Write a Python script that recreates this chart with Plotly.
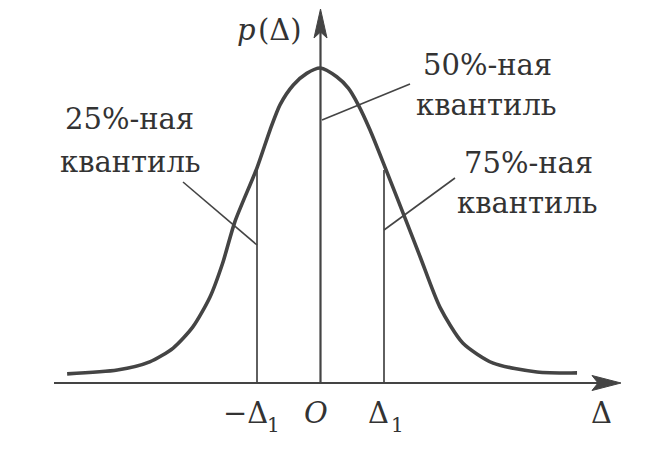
import plotly.graph_objects as go

# ---- data (Δ in units of Δ1, p normalised to the peak) ----
curve_delta = [-3.99, -3.20, -2.69, -2.32, -2.01, -1.74, -1.54, -1.35, -1.00, -0.795, -0.638,
               -0.428, -0.217, 0.0, 0.255, 0.438, 0.595, 0.78, 1.02, 1.33, 1.57, 1.88, 2.24,
               2.72, 3.41, 4.04]
curve_p = [0.029, 0.041, 0.067, 0.111, 0.178, 0.273, 0.381, 0.511, 0.683, 0.803, 0.883,
           0.946, 0.983, 1.0, 0.972, 0.936, 0.883, 0.803, 0.683, 0.524, 0.400, 0.241, 0.127,
           0.063, 0.035, 0.032]
quantile_delta = [-1.0, 1.0]
quantile_p = [0.676, 0.676]
quantile_names = ["25%-ная", "50%-ная", "75%-ная"]
quantile_word = "квантиль"
tick_main = ["−Δ", "O", "Δ"]
tick_sub = ["1", "", "1"]
tick_delta = [-1.0, 0.0, 1.0]
x_title = "Δ"
y_title_var = "p"
y_title_arg = "(Δ)"

# ---- pixel <-> data helpers for layout placement ----
W, H = 651, 457
X0, SX, Y0, SY = 320.5, 63.5, 383.0, 315.0
def dx(px):
    return (px - X0) / SX
def dy(px):
    return (Y0 - px) / SY

INK = "#444444"
TXT = "#333333"

fig = go.Figure()

# x axis line and y axis line
fig.add_trace(go.Scatter(x=[dx(54), dx(600)], y=[0, 0], mode="lines",
                         line=dict(color=INK, width=2.2), hoverinfo="skip"))
fig.add_trace(go.Scatter(x=[0, 0], y=[0, dy(30)], mode="lines",
                         line=dict(color=INK, width=2.2), hoverinfo="skip"))

# quantile verticals
for q, h in zip(quantile_delta, quantile_p):
    fig.add_trace(go.Scatter(x=[q, q], y=[0, h], mode="lines",
                             line=dict(color=INK, width=1.7), hoverinfo="skip"))

# density curve
fig.add_trace(go.Scatter(x=curve_delta, y=curve_p, mode="lines",
                         line=dict(color=INK, width=3.6, shape="spline", smoothing=0.7),
                         hoverinfo="skip"))

shapes = []
# arrowheads
def path(pts):
    return "M " + " L ".join(f"{a},{b}" for a, b in pts) + " Z"
shapes.append(dict(type="path", xref="x", yref="y",
                   path=path([(dx(621), dy(383)), (dx(592), dy(375.5)), (dx(598), dy(383)),
                              (dx(592), dy(390.5))]),
                   fillcolor=INK, line=dict(color=INK, width=1)))
shapes.append(dict(type="path", xref="x", yref="y",
                   path=path([(dx(320.5), dy(9)), (dx(314), dy(38)), (dx(320.5), dy(32)),
                              (dx(327), dy(38))]),
                   fillcolor=INK, line=dict(color=INK, width=1)))
# leader lines
for (x1, y1, x2, y2) in [(183, 182, 257, 245), (410, 84, 322, 120), (455, 178, 384, 230)]:
    shapes.append(dict(type="line", xref="x", yref="y", x0=dx(x1), y0=dy(y1), x1=dx(x2), y1=dy(y2),
                       line=dict(color=INK, width=1.6)))

ann = []
def label(text, cx, baseline, size=29, italic=False):
    ann.append(dict(text=text, x=dx(cx), y=dy(baseline - size * 0.345), xref="x", yref="y",
                    showarrow=False, xanchor="center", yanchor="middle",
                    font=dict(family="DejaVu Serif", size=size, color=TXT,
                              style="italic" if italic else "normal")))

label(quantile_names[0], 129, 129)
label(quantile_word, 130, 172)
label(quantile_names[1], 487, 75)
label(quantile_word, 486, 115)
label(quantile_names[2], 528, 173)
label(quantile_word, 527, 213)
label(y_title_var, 246, 40, italic=True)
label(y_title_arg, 280, 40)
main_px = [245, 316, 378]
sub_px = [273, None, 397]
for t, s, cx, sx in zip(tick_main, tick_sub, main_px, sub_px):
    label(t, cx, 423, italic=(t == "O"))
    if s:
        label(s, sx, 432, size=20)
label(x_title, 601, 423)

fig.update_layout(
    width=W, height=H,
    margin=dict(l=0, r=0, t=0, b=0),
    paper_bgcolor="white", plot_bgcolor="white",
    showlegend=False,
    xaxis=dict(range=[dx(0), dx(W)], visible=False, fixedrange=True),
    yaxis=dict(range=[dy(H), dy(0)], visible=False, fixedrange=True),
    shapes=shapes, annotations=ann,
)

fig.write_html("out.html", config={"displayModeBar": False},
               post_script="document.body.style.margin='0';document.body.style.overflow='hidden';")
